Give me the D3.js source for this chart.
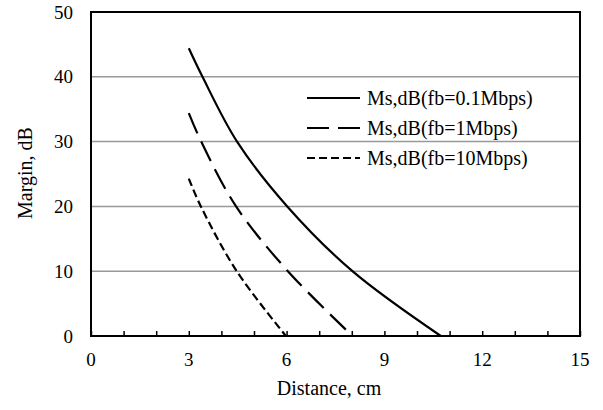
<!DOCTYPE html>
<html>
<head>
<meta charset="utf-8">
<script src="https://cdn.jsdelivr.net/npm/d3@7"></script>
<style>
  body { margin: 0; background: #fff; }
  text { font-family: "Liberation Serif", "Times New Roman", serif; fill: #000; }
</style>
</head>
<body>
<svg id="chart" width="603" height="410"></svg>
<script>
// values (mostly where curves cross the gridlines)
const distance01 = [3, 3.42, 4.48, 6.02, 8.02, 10.73]
const margin01   = [44.4, 40, 30, 20, 10, 0]
const distance1  = [3, 3.38, 4.45, 6.04, 8.02]
const margin1    = [34.4, 30, 20, 10, 0]
const distance10 = [3, 3.37, 4.47, 5.98]
const margin10   = [24.3, 20, 10, 0]

const xTicks = [0, 3, 6, 9, 12, 15]
const yTicks = [0, 10, 20, 30, 40, 50]

const seriesNames = ["Ms,dB(fb=0.1Mbps)", "Ms,dB(fb=1Mbps)", "Ms,dB(fb=10Mbps)"]
const dashes = ["none", "22,9", "8,4"]

const series = [
  d3.zip(distance01, margin01),
  d3.zip(distance1, margin1),
  d3.zip(distance10, margin10)
]

const svg = d3.select("#chart")
const plotLeft = 91, plotRight = 580, plotTop = 12, plotBottom = 336

const x = d3.scaleLinear().domain([0, 15]).range([plotLeft, plotRight])
const y = d3.scaleLinear().domain([0, 50]).range([plotBottom, plotTop])

// gridlines
svg.append("g")
  .selectAll("line")
  .data(yTicks.filter(d => d > 0 && d < 50))
  .enter().append("line")
    .attr("x1", plotLeft).attr("x2", plotRight)
    .attr("y1", d => y(d)).attr("y2", d => y(d))
    .attr("stroke", "#999")
    .attr("stroke-width", 1.5)

// x axis: inward minor ticks every 1 cm
const xAxis = d3.axisBottom(x)
  .ticks(15)
  .tickSize(-5)
  .tickFormat("")
svg.append("g")
  .attr("transform", "translate(0," + plotBottom + ")")
  .call(xAxis)
  .call(g => g.select(".domain").remove())
  .selectAll("line")
    .attr("stroke", "#000")
    .attr("stroke-width", 1.5)

// tick labels
svg.append("g")
  .selectAll("text")
  .data(xTicks)
  .enter().append("text")
    .attr("x", d => x(d))
    .attr("y", 366)
    .attr("text-anchor", "middle")
    .style("font-size", "19px")
    .text(d => d)

svg.append("g")
  .selectAll("text")
  .data(yTicks)
  .enter().append("text")
    .attr("x", 73)
    .attr("y", d => y(d))
    .attr("dy", "0.35em")
    .attr("text-anchor", "end")
    .style("font-size", "19px")
    .text(d => d)

// frame
svg.append("rect")
  .attr("x", plotLeft).attr("y", plotTop)
  .attr("width", plotRight - plotLeft).attr("height", plotBottom - plotTop)
  .attr("fill", "none")
  .attr("stroke", "#000")
  .attr("stroke-width", 2)

// curves
const line = d3.line()
  .x(d => x(d[0]))
  .y(d => y(d[1]))
  .curve(d3.curveCatmullRom.alpha(0.5))

svg.append("g")
  .selectAll("path")
  .data(series)
  .enter().append("path")
    .attr("d", line)
    .attr("fill", "none")
    .attr("stroke", "#000")
    .attr("stroke-width", 2.2)
    .attr("stroke-dasharray", (d, i) => dashes[i])

// legend
const legend = svg.append("g")
  .selectAll("g")
  .data(seriesNames)
  .enter().append("g")
    .attr("transform", (d, i) => "translate(307," + (98 + i * 30) + ")")

legend.append("line")
  .attr("x1", 0).attr("x2", 53)
  .attr("stroke", "#000")
  .attr("stroke-width", 2.2)
  .attr("stroke-dasharray", (d, i) => dashes[i])

legend.append("text")
  .attr("x", 60)
  .attr("dy", "0.35em")
  .style("font-size", "20px")
  .text(d => d)

// axis titles
svg.append("text")
  .attr("x", 329)
  .attr("y", 395)
  .attr("text-anchor", "middle")
  .style("font-size", "20px")
  .text("Distance, cm")

svg.append("text")
  .attr("transform", "translate(32,173) rotate(-90)")
  .attr("text-anchor", "middle")
  .style("font-size", "20px")
  .text("Margin, dB")
</script>
</body>
</html>
